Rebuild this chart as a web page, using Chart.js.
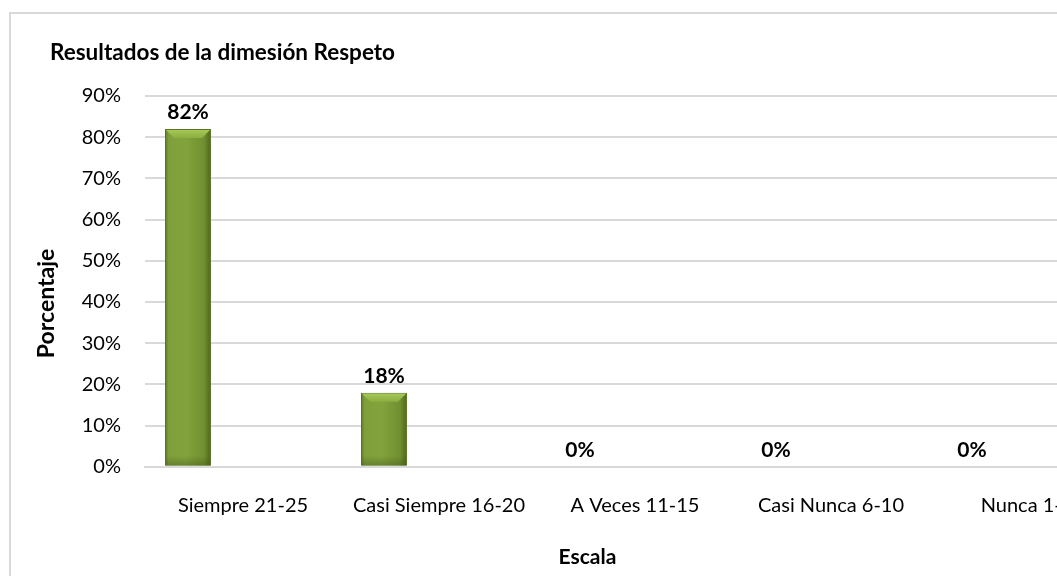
<!DOCTYPE html>
<html>
<head>
<meta charset="utf-8">
<script src="https://cdn.jsdelivr.net/npm/chart.js@4.4.1/dist/chart.umd.min.js"></script>
<style>
  html, body { margin: 0; padding: 0; background: #fff; overflow: hidden; }
  #marco {
    position: absolute; left: 9px; top: 12px;
    width: 1140px; height: 620px;
    border: 2px solid #d9d9d9; background: #fff;
  }
  canvas { display: block; }
</style>
</head>
<body>
<div id="marco"><canvas id="grafico" width="1140" height="620"></canvas></div>
<script>
const categorias = ['Siempre 21-25', 'Casi Siempre 16-20', 'A Veces 11-15', 'Casi Nunca 6-10', 'Nunca 1-5'];
const porcentajes = [82, 18, 0, 0, 0];
const serieVacia = [null, null, null, null, null];
const ticksY = [0, 10, 20, 30, 40, 50, 60, 70, 80, 90];
const tituloY = 'Porcentaje';

const fuente = 'Lato, "Liberation Sans", sans-serif';

// sfumatura di ogni barra, calcolata sulla sua posizione reale
const sfumatura = {
  id: 'sfumatura',
  beforeDatasetsDraw(chart) {
    const c = chart.ctx;
    chart.getDatasetMeta(0).data.forEach(bar => {
      const x0 = bar.x - bar.width / 2;
      const g = c.createLinearGradient(x0, 0, x0 + bar.width, 0);
      g.addColorStop(0, '#5c7826');
      g.addColorStop(0.08, '#7e9f3a');
      g.addColorStop(0.45, '#82a33c');
      g.addColorStop(0.85, '#718f31');
      g.addColorStop(1, '#4d6519');
      bar.options = Object.assign({}, bar.options, { backgroundColor: g });
    });
  },
  afterDatasetsDraw(chart) {
    const c = chart.ctx;
    c.save();
    chart.getDatasetMeta(0).data.forEach(bar => {
      const h = bar.base - bar.y;
      if (h < 4) return;
      const x0 = bar.x - bar.width / 2;
      const x1 = bar.x + bar.width / 2;
      const b = Math.min(9, h / 3);
      // smusso superiore
      const g = c.createLinearGradient(0, bar.y, 0, bar.y + b);
      g.addColorStop(0, '#a9cb5a');
      g.addColorStop(1, '#8cae40');
      c.fillStyle = g;
      c.beginPath();
      c.moveTo(x0 + 1, bar.y + 1);
      c.lineTo(x1 - 1, bar.y + 1);
      c.lineTo(x1 - b, bar.y + b);
      c.lineTo(x0 + b, bar.y + b);
      c.closePath();
      c.fill();
      // ombra in basso
      const gb = c.createLinearGradient(0, bar.base - 10, 0, bar.base);
      gb.addColorStop(0, 'rgba(60,80,20,0)');
      gb.addColorStop(1, 'rgba(60,80,20,0.4)');
      c.fillStyle = gb;
      c.fillRect(x0 + 1, bar.base - 10, bar.width - 2, 10);
    });
    c.restore();
  }
};

// etichette sopra le barre e titolo dell'asse Y
const etichette = {
  id: 'etichette',
  afterDatasetsDraw(chart) {
    const c = chart.ctx;
    const meta = chart.getDatasetMeta(0);
    c.save();
    c.font = 'bold 21px ' + fuente;
    c.fillStyle = '#000';
    c.textAlign = 'center';
    c.textBaseline = 'bottom';
    meta.data.forEach((bar, i) => {
      c.fillText(porcentajes[i] + '%', bar.x, bar.y - 6);
    });
    c.restore();
  },
  afterDraw(chart) {
    const c = chart.ctx;
    const area = chart.chartArea;
    c.save();
    c.translate(36, (area.top + area.bottom) / 2 + 22);
    c.rotate(-Math.PI / 2);
    c.font = 'bold 23px ' + fuente;
    c.fillStyle = '#000';
    c.textAlign = 'center';
    c.textBaseline = 'middle';
    c.fillText(tituloY, 0, 0);
    c.restore();
  }
};

const ctx = document.getElementById('grafico').getContext('2d');

new Chart(ctx, {
  type: 'bar',
  data: {
    labels: categorias,
    datasets: [
      {
        data: porcentajes,
        backgroundColor: '#77933c',
        borderColor: '#5a7424',
        borderWidth: 1,
        categoryPercentage: 0.842,
        barPercentage: 0.836
      },
      { data: serieVacia, categoryPercentage: 0.842, barPercentage: 0.836 },
      { data: serieVacia, categoryPercentage: 0.842, barPercentage: 0.836 }
    ]
  },
  options: {
    responsive: false,
    animation: false,
    layout: { padding: { left: 39, right: 26, top: 0, bottom: 0 } },
    plugins: {
      legend: { display: false },
      tooltip: { enabled: false },
      title: {
        display: true,
        text: 'Resultados de la dimesión Respeto',
        align: 'start',
        color: '#000',
        font: { family: fuente, size: 22.5, weight: 'bold' },
        padding: { top: 25, bottom: 30 }
      },
      subtitle: {
        display: true,
        position: 'bottom',
        text: 'Escala',
        color: '#000',
        font: { family: fuente, size: 21, weight: 'bold' },
        padding: { top: 8, bottom: 64 }
      }
    },
    scales: {
      x: {
        grid: { display: false },
        border: { color: '#d9d9d9', width: 2 },
        ticks: {
          color: '#000',
          font: { family: fuente, size: 20 },
          padding: 19,
          maxRotation: 0,
          autoSkip: false
        }
      },
      y: {
        min: 0,
        max: 90,
        afterBuildTicks(scale) {
          scale.ticks = ticksY.map(v => ({ value: v }));
        },
        afterFit(scale) {
          scale.width = 95;
        },
        grid: { color: '#d9d9d9', lineWidth: 2, drawTicks: false },
        border: { display: false },
        ticks: {
          color: '#000',
          font: { family: fuente, size: 20 },
          padding: 24,
          callback: v => v + '%'
        }
      }
    }
  },
  plugins: [sfumatura, etichette]
});
</script>
</body>
</html>
